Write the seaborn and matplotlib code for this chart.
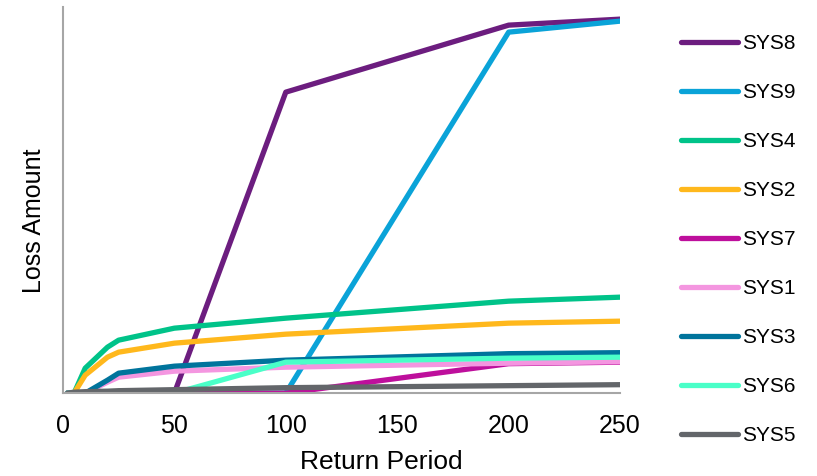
import matplotlib
matplotlib.use("Agg")
import matplotlib.pyplot as plt
import pandas as pd
import seaborn as sns

# return periods (years) and loss amounts per system (arbitrary units)
return_period = [2, 5, 10, 20, 25, 50, 100, 200, 250]

sys8 = [0, 0, 0, 0, 0, 0, 30.1, 36.8, 37.4]
sys9 = [0, 0, 0, 0, 0, 0, 0, 36.1, 37.2]
sys4 = [0, 0, 2.5, 4.6, 5.3, 6.5, 7.5, 9.2, 9.6]
sys2 = [0, 0, 1.8, 3.6, 4.1, 5.0, 5.9, 7.0, 7.2]
sys7 = [0, 0, 0, 0, 0, 0, 0, 2.95, 3.1]
sys1 = [0, 0, 0, 1.1, 1.6, 2.2, 2.6, 3.0, 3.15]
sys3 = [0, 0, 0, 1.3, 2.0, 2.7, 3.3, 3.95, 4.05]
sys6 = [0, 0, 0, 0, 0, 0, 3.1, 3.5, 3.6]
sys5 = [0, 0.1, 0.15, 0.2, 0.25, 0.35, 0.55, 0.75, 0.85]

systems = ["SYS8", "SYS9", "SYS4", "SYS2", "SYS7", "SYS1", "SYS3", "SYS6", "SYS5"]
series = [sys8, sys9, sys4, sys2, sys7, sys1, sys3, sys6, sys5]
colors = ["#6C1D7F", "#0AA3D8", "#00C389", "#FFB81C", "#BE0F9C",
          "#F496E0", "#00749C", "#4AFFC8", "#63666A"]

rows = []
for name, vals in zip(systems, series):
    for rp, v in zip(return_period, vals):
        rows.append({"Return Period": rp, "Loss Amount": v, "system": name})
df = pd.DataFrame(rows)

sns.set_style("white")
plt.rcParams["font.family"] = ["Liberation Sans", "DejaVu Sans"]
plt.rcParams["text.color"] = "black"
plt.rcParams["axes.labelcolor"] = "black"
plt.rcParams["xtick.color"] = "black"

fig = plt.figure(figsize=(8.17, 4.76), dpi=100)
ax = fig.add_axes([0.077, 0.174, 0.682, 0.811])

sns.lineplot(data=df, x="Return Period", y="Loss Amount", hue="system",
             hue_order=systems, palette=colors, linewidth=3.8,
             solid_capstyle="round", ax=ax, legend=True)

ax.set_xlim(0, 250)
ax.set_ylim(0, 38.6)
ax.set_xticks([0, 50, 100, 150, 200, 250])
ax.set_xticklabels(["0", "50", "100", "150", "200", "250"], fontsize=18)
ax.set_yticks([])
ax.tick_params(axis="x", length=0, pad=15)
ax.set_xlabel("Return Period", fontsize=19)
ax.set_ylabel("Loss Amount", fontsize=18)
ax.xaxis.set_label_coords(0.571, -0.148)
ax.yaxis.set_label_coords(-0.031, 0.446)

for side in ["top", "right"]:
    ax.spines[side].set_visible(False)
for side in ["left", "bottom"]:
    ax.spines[side].set_color("#A6A6A6")
    ax.spines[side].set_linewidth(1.5)

handles, labels = ax.get_legend_handles_labels()
ax.get_legend().remove()
for h in handles:
    h.set_solid_capstyle("round")
fig.legend(handles, labels, loc="upper left", bbox_to_anchor=(0.834, 0.929),
           frameon=False, fontsize=15, handlelength=2.7, handletextpad=0.2,
           labelspacing=1.44, borderpad=0, borderaxespad=0)

fig.savefig("out.png", dpi=100)
